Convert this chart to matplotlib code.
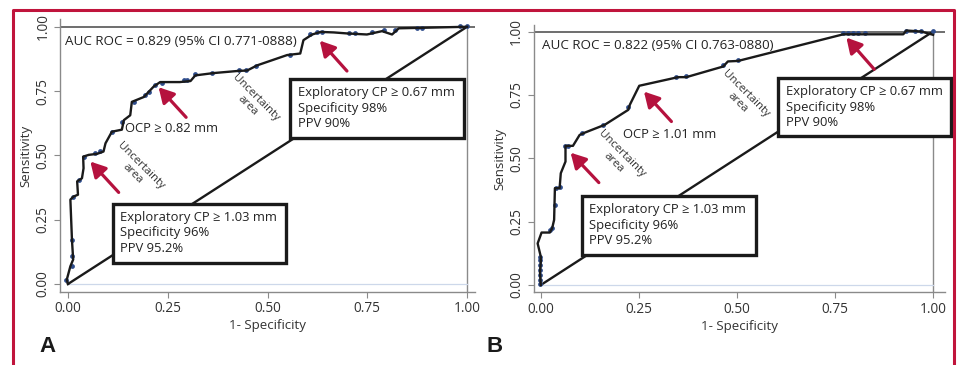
import matplotlib
matplotlib.use("Agg")
import matplotlib.pyplot as plt
from matplotlib.patches import Rectangle

plt.rcParams["font.family"] = ["Open Sans", "DejaVu Sans"]

# ---- panel A: ROC curve (1-specificity, sensitivity) ----
a_fpr = [0.0, -0.003, 0.006, 0.013, 0.010, 0.006, 0.014, 0.025, 0.023, 0.035, 0.039, 0.038,
         0.052, 0.073, 0.089, 0.094, 0.110, 0.135, 0.140, 0.156, 0.160, 0.190, 0.215, 0.231,
         0.280, 0.307, 0.319, 0.365, 0.424, 0.449, 0.474, 0.549, 0.582, 0.590, 0.612, 0.633,
         0.666, 0.700, 0.749, 0.787, 0.812, 0.829, 1.0]
a_tpr = [0.0, 0.017, 0.069, 0.095, 0.170, 0.328, 0.340, 0.347, 0.399, 0.411, 0.450, 0.495,
         0.502, 0.506, 0.515, 0.547, 0.592, 0.600, 0.637, 0.656, 0.708, 0.727, 0.768, 0.785,
         0.785, 0.789, 0.811, 0.820, 0.828, 0.830, 0.850, 0.890, 0.896, 0.948, 0.970, 0.980,
         0.978, 0.974, 0.970, 0.983, 0.970, 0.994, 1.0]
a_dot_fpr = [-0.004, 0.010, 0.010, 0.010, 0.013, 0.027, 0.039, 0.068, 0.081, 0.110, 0.135,
             0.165, 0.194, 0.202, 0.219, 0.236, 0.290, 0.298, 0.319, 0.361, 0.428, 0.445,
             0.470, 0.557, 0.607, 0.624, 0.636, 0.704, 0.720, 0.762, 0.791, 0.820, 0.874,
             0.887, 0.983, 1.0]
a_dot_tpr = [0.017, 0.069, 0.108, 0.170, 0.340, 0.404, 0.495, 0.508, 0.518, 0.592, 0.631,
             0.708, 0.735, 0.748, 0.774, 0.783, 0.793, 0.793, 0.817, 0.820, 0.831, 0.831,
             0.848, 0.892, 0.970, 0.978, 0.979, 0.977, 0.977, 0.979, 0.987, 0.987, 0.997,
             0.997, 1.002, 1.002]

# ---- panel B ----
b_fpr = [0.0, -0.002, 0.0, 0.0, -0.008, 0.002, 0.023, 0.029, 0.034, 0.036, 0.048, 0.051,
         0.063, 0.063, 0.082, 0.099, 0.112, 0.163, 0.223, 0.227, 0.251, 0.350, 0.371, 0.465,
         0.477, 0.503, 0.771, 0.924, 0.932, 0.970, 1.0]
b_tpr = [0.0, 0.050, 0.090, 0.112, 0.164, 0.207, 0.207, 0.224, 0.257, 0.382, 0.382, 0.441,
         0.487, 0.549, 0.549, 0.592, 0.601, 0.632, 0.691, 0.711, 0.786, 0.820, 0.820, 0.862,
         0.882, 0.884, 0.989, 0.989, 1.004, 1.0, 0.987]
b_dot_fpr = [-0.003, -0.003, -0.003, -0.003, -0.003, -0.003, -0.003, 0.023, 0.029, 0.037,
             0.040, 0.048, 0.063, 0.070, 0.105, 0.159, 0.223, 0.345, 0.371, 0.465, 0.503,
             0.771, 0.784, 0.797, 0.809, 0.826, 0.932, 0.953, 0.970, 1.0]
b_dot_tpr = [0.003, 0.02, 0.04, 0.06, 0.08, 0.10, 0.112, 0.217, 0.224, 0.316, 0.382, 0.388,
             0.549, 0.549, 0.599, 0.632, 0.704, 0.820, 0.826, 0.868, 0.886, 0.993, 0.993,
             0.993, 0.993, 0.993, 1.004, 1.004, 1.003, 1.004]

ticks = [0.0, 0.25, 0.5, 0.75, 1.0]
tick_labels = ["0.00", "0.25", "0.50", "0.75", "1.00"]

RED = "#b5123e"
DOT = "#2f4d8c"

panels = [
    dict(rect=[0.0627, 0.2008, 0.4337, 0.747], xlim=(-0.02, 1.02), ylim=(-0.03, 1.03),
         fpr=a_fpr, tpr=a_tpr, dfpr=a_dot_fpr, dtpr=a_dot_tpr, letter="A", letter_x=0.041,
         auc="AUC ROC = 0.829 (95% CI 0.771-0888)", auc_xy=(-0.007, 0.942),
         ocp="OCP \u2265 0.82 mm", ocp_xy=(0.144, 0.605),
         box1=(0.112, 0.082, 0.435, 0.230), box2=(0.556, 0.567, 0.436, 0.229),
         unc=[(0.173, 0.444), (0.461, 0.709)],
         arrows=[((0.127, 0.356), (0.056, 0.476)), ((0.296, 0.648), (0.227, 0.765)),
                 ((0.699, 0.828), (0.631, 0.946))]),
    dict(rect=[0.5577, 0.199, 0.4296, 0.732], xlim=(-0.018, 1.03), ylim=(-0.029, 1.025),
         fpr=b_fpr, tpr=b_tpr, dfpr=b_dot_fpr, dtpr=b_dot_tpr, letter="B", letter_x=0.508,
         auc="AUC ROC = 0.822 (95% CI 0.763-0880)", auc_xy=(0.002, 0.943),
         ocp="OCP \u2265 1.01 mm", ocp_xy=(0.21, 0.592),
         box1=(0.104, 0.118, 0.444, 0.233), box2=(0.605, 0.588, 0.44, 0.228),
         unc=[(0.197, 0.500), (0.511, 0.737)],
         arrows=[((0.148, 0.404), (0.076, 0.522)), ((0.333, 0.645), (0.263, 0.763)),
                 ((0.850, 0.851), (0.779, 0.976))]),
]

fig = plt.figure(figsize=(9.57, 3.65), dpi=100)

for p in panels:
    ax = fig.add_axes(p["rect"])
    ax.set_xlim(*p["xlim"])
    ax.set_ylim(*p["ylim"])
    for s in ["top", "right"]:
        ax.spines[s].set_visible(False)
    for s in ["left", "bottom"]:
        ax.spines[s].set_color("#8a8a8a")
        ax.spines[s].set_linewidth(1.0)
    ax.set_xticks(ticks)
    ax.set_xticklabels(tick_labels)
    ax.set_yticks(ticks)
    ax.set_yticklabels(tick_labels, rotation=90, va="center")
    ax.tick_params(length=4, width=0.8, color="#8a8a8a", labelsize=9.8, labelcolor="#333333", pad=3)
    ax.set_xlabel("1- Specificity", fontsize=9.6, color="#333333", labelpad=2)
    ax.set_ylabel("Sensitivity", fontsize=9.6, color="#333333", labelpad=2)

    ax.axhline(1.0, color="#555555", lw=1.2, zorder=1)
    ax.plot([1.0, 1.0], [p["ylim"][0], 1.0], color="#8a8a8a", lw=1.0, zorder=1)
    ax.plot([0.0, 1.0], [0.0, 0.0], color="#cdd8ea", lw=0.9, zorder=1)
    ax.plot([0, 1], [0, 1], color="#1a1a1a", lw=1.7, zorder=2)

    ax.scatter(p["dfpr"], p["dtpr"], s=12, color=DOT, zorder=3, linewidths=0)
    ax.plot(p["fpr"], p["tpr"], color="#1a1a1a", lw=1.7, zorder=4)

    for (bx, by, bw, bh), txt in [(p["box1"], "Exploratory CP \u2265 1.03 mm\nSpecificity 96%\nPPV 95.2%"),
                                  (p["box2"], "Exploratory CP \u2265 0.67 mm\nSpecificity 98%\nPPV 90%")]:
        ax.add_patch(Rectangle((bx, by), bw, bh, facecolor="white", edgecolor="#1a1a1a",
                               lw=2.4, zorder=5, clip_on=False))
        ax.text(bx + 0.045 * bw, by + bh - 0.028, txt, ha="left", va="top", fontsize=9.4,
                color="#222222", linespacing=1.25, zorder=6)

    ax.text(p["auc_xy"][0], p["auc_xy"][1], p["auc"], ha="left", va="center",
            fontsize=9.6, color="#222222", zorder=6)
    ax.text(p["ocp_xy"][0], p["ocp_xy"][1], p["ocp"], ha="left", va="center",
            fontsize=9.4, color="#222222", zorder=6)
    for ux, uy in p["unc"]:
        ax.text(ux, uy, "Uncertainty\narea", ha="center", va="center", rotation=-45,
                rotation_mode="anchor", fontsize=8.2, color="#333333", linespacing=1.05, zorder=6)
    for tail, head in p["arrows"]:
        ax.annotate("", xy=head, xytext=tail,
                    arrowprops=dict(arrowstyle="-|>,head_length=0.9,head_width=0.5",
                                    color=RED, lw=2.3, shrinkA=0, shrinkB=0), zorder=7)

    fig.text(p["letter_x"], 0.036, p["letter"], fontsize=16, fontweight="bold",
             color="#1a1a1a", family="Liberation Sans")

# red frame around the figure
fig.add_artist(plt.Line2D([0.0135, 0.0135, 0.9965, 0.9965], [0.0, 0.9725, 0.9725, 0.0],
                          transform=fig.transFigure, color="#c0143c", lw=2.2))

fig.savefig("out.png", dpi=100)
print("saved out.png")
